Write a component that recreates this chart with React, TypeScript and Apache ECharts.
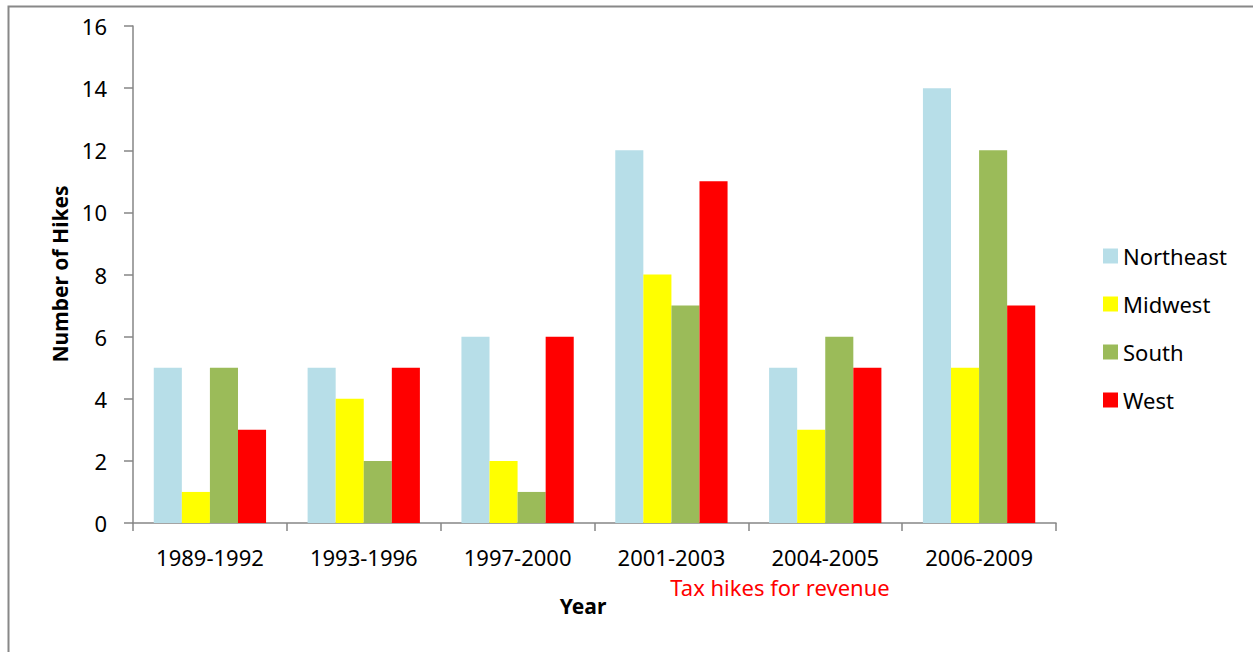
import React, { useEffect, useRef } from "react";
import * as echarts from "echarts";

const categories = ["1989-1992", "1993-1996", "1997-2000", "2001-2003", "2004-2005", "2006-2009"];
const northeast = [5, 5, 6, 12, 5, 14];
const midwest = [1, 4, 2, 8, 3, 5];
const south = [5, 2, 1, 7, 6, 12];
const west = [3, 5, 6, 11, 5, 7];
const seriesNames = ["Northeast", "Midwest", "South", "West"];
const seriesColors = ["#B7DEE8", "#FFFF00", "#9BBB59", "#FF0000"];
const yTicks = { min: 0, max: 16, interval: 2 };

const FONT = "'Noto Sans', 'Open Sans', sans-serif";

export default function App() {
  const ref = useRef<HTMLDivElement>(null);
  useEffect(() => {
    const chart = echarts.init(ref.current!, null, { renderer: "svg" });
    const values = [northeast, midwest, south, west];
    chart.setOption({
      animation: false,
      backgroundColor: "#ffffff",
      grid: { left: 133, top: 26, right: 197, bottom: 129, containLabel: false },
      legend: {
        orient: "vertical",
        left: 1098,
        top: 240,
        itemWidth: 15,
        itemHeight: 15,
        itemGap: 26,
        icon: "rect",
        textStyle: { fontFamily: FONT, fontSize: 22, color: "#000", padding: [0, 0, 0, 0] },
        data: seriesNames,
      },
      xAxis: {
        type: "category",
        data: categories,
        axisLine: { lineStyle: { color: "#868686", width: 1.5 } },
        axisTick: { show: true, length: 8, lineStyle: { color: "#868686", width: 1.5 } },
        axisLabel: { fontFamily: FONT, fontSize: 22, color: "#000", margin: 23 },
      },
      yAxis: {
        type: "value",
        min: yTicks.min,
        max: yTicks.max,
        interval: yTicks.interval,
        splitLine: { show: false },
        axisLine: { show: true, lineStyle: { color: "#868686", width: 1.5 } },
        axisTick: { show: true, length: 9, lineStyle: { color: "#868686", width: 1.5 } },
        axisLabel: { fontFamily: FONT, fontSize: 22, color: "#000", margin: 26 },
      },
      series: seriesNames.map((name, i) => ({
        name,
        type: "bar",
        data: values[i],
        barGap: "0%",
        barCategoryGap: "27%",
        itemStyle: { color: seriesColors[i] },
      })),
      graphic: [
        {
          type: "rect",
          left: 6,
          top: 4,
          shape: { x: 0, y: 0, width: 1270, height: 680 },
          style: { fill: "none", stroke: "#888888", lineWidth: 2 },
          silent: true,
        },
        {
          type: "text",
          x: 60,
          y: 274,
          rotation: Math.PI / 2,
          style: {
            text: "Number of Hikes",
            fontFamily: FONT,
            fontSize: 21,
            fontWeight: "bold",
            fill: "#000",
            align: "center",
            verticalAlign: "middle",
          },
        },
        {
          type: "text",
          x: 583,
          y: 606,
          style: {
            text: "Year",
            fontFamily: FONT,
            fontSize: 21,
            fontWeight: "bold",
            fill: "#000",
            align: "center",
            verticalAlign: "middle",
          },
        },
        {
          type: "text",
          x: 780,
          y: 587,
          style: {
            text: "Tax hikes for revenue",
            fontFamily: FONT,
            fontSize: 22,
            fill: "#FF0000",
            align: "center",
            verticalAlign: "middle",
          },
        },
      ],
    });
    return () => chart.dispose();
  }, []);
  return (
    <div
      ref={ref}
      style={{ position: "fixed", left: 0, top: 0, width: 1253, height: 652, background: "#fff" }}
    />
  );
}
